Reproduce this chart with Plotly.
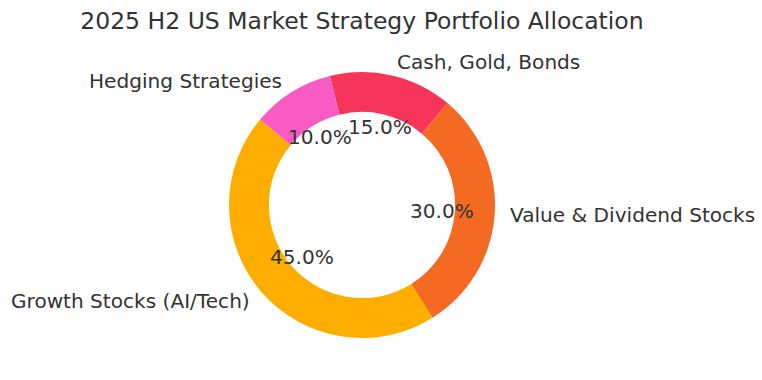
import math
import plotly.graph_objects as go

categories = ["Growth Stocks (AI/Tech)", "Value & Dividend Stocks", "Cash, Gold, Bonds", "Hedging Strategies"]
values = [45, 30, 15, 10]
colors = ["#FFAE00", "#F46A22", "#F7355A", "#F95BC4"]
title = "2025 H2 US Market Strategy Portfolio Allocation"

W, H = 762, 380
cx, cy, R = 362, 205, 133
start_angle = 140  # degrees, counterclockwise from 3 o'clock
font = "DejaVu Sans"
txt = "#333333"

total = sum(values)
first_span = 360 * values[0] / total

fig = go.Figure(go.Pie(
    labels=categories, values=values, sort=False,
    direction="counterclockwise", rotation=-(start_angle - 90) - first_span,
    hole=0.7, textinfo="none", showlegend=False,
    marker=dict(colors=colors, line=dict(width=0)),
    domain=dict(x=[(cx - R) / W, (cx + R) / W],
                y=[(H - cy - R) / H, (H - cy + R) / H]),
))

ang = start_angle
annotations = []
for lab, v in zip(categories, values):
    span = 360 * v / total
    mid = math.radians(ang + span / 2)
    ang += span
    c, s = math.cos(mid), math.sin(mid)
    lx, ly = cx + 1.1 * R * c, cy - 1.1 * R * s
    annotations.append(dict(x=lx / W, y=1 - ly / H, xref="paper", yref="paper",
                            text=lab, showarrow=False,
                            xanchor="left" if c > 0 else "right", yanchor="middle",
                            font=dict(family=font, size=20.1, color=txt)))
    px, py = cx + 0.6 * R * c, cy - 0.6 * R * s
    annotations.append(dict(x=px / W, y=1 - py / H, xref="paper", yref="paper",
                            text=f"{100 * v / total:.1f}%", showarrow=False,
                            xanchor="center", yanchor="middle",
                            font=dict(family=font, size=20.1, color=txt)))

fig.update_layout(
    width=W, height=H, margin=dict(l=0, r=0, t=0, b=0),
    paper_bgcolor="white", plot_bgcolor="white",
    title=dict(text=title, x=0.475, xanchor="center", y=1 - 21 / H, yanchor="middle",
               font=dict(family=font, size=23.5, color=txt)),
    annotations=annotations,
)
fig.write_html("out.html", config={"displayModeBar": False},
               post_script="document.body.style.margin='0px';")
